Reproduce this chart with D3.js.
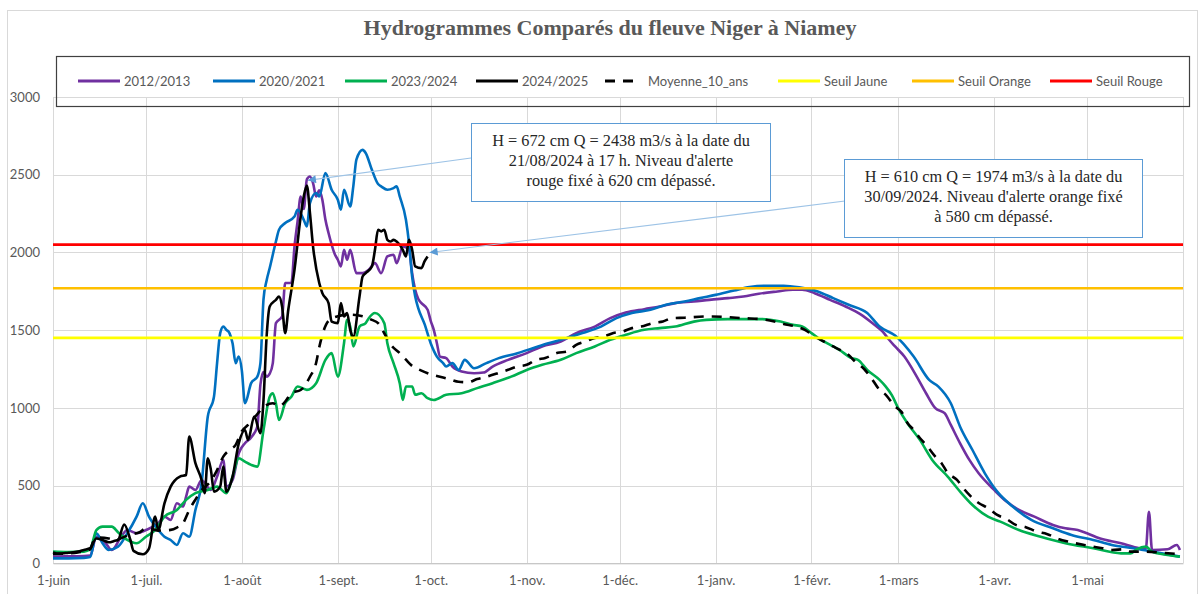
<!DOCTYPE html>
<html><head><meta charset="utf-8">
<script src="https://cdn.jsdelivr.net/npm/d3@7"></script>
<style>body{margin:0;background:#fff}svg{display:block}</style>
</head><body>
<svg id="c" width="1203" height="594"></svg>
<script>
// ---------------- DATA ----------------
const chartTitle = "Hydrogrammes Comparés du fleuve Niger à Niamey";
const monthLabels = ["1-juin","1-juil.","1-août","1-sept.","1-oct.","1-nov.","1-déc.","1-janv.","1-févr.","1-mars","1-avr.","1-mai"];
const yTicks = [0,500,1000,1500,2000,2500,3000];
const seriesNames = ["2012/2013","2020/2021","2023/2024","2024/2025","Moyenne_10_ans"];
// [day since 1 June, discharge m3/s]
const q2012 = [[0,43],[4,45],[8,45],[12,50],[14,171],[17,129],[19,86],[22,171],[24,214],[27,193],[30,214],[34,258],[36,300],[38,279],[40,386],[42,365],[43,429],[44,493],[46,472],[48,536],[51,472],[53,558],[55,665],[56,493],[58,536],[60,708],[62,772],[64,810],[66,880],[67,1150],[68,1230],[69,1201],[70,1220],[71,1288],[72,1545],[74,1588],[75,1803],[77,1803],[78,2038],[79,2200],[80,2360],[81,2280],[82,2470],[83,2489],[84,2446],[85,2360],[86,2400],[87,2339],[88,2210],[89,2125],[91,1990],[92,1953],[93,1910],[94,2017],[95,1953],[96,2017],[98,1867],[100,1867],[102,1888],[104,1931],[106,1867],[108,1974],[110,1985],[111,1931],[113,2038],[115,2017],[116,1867],[117,1760],[118,1700],[119,1674],[121,1631],[122,1560],[123,1502],[124,1416],[125,1330],[127,1320],[129,1266],[132,1234],[136,1223],[139,1227],[142,1266],[147,1309],[153,1352],[158,1395],[164,1427],[169,1481],[175,1523],[180,1577],[185,1613],[191,1635],[196,1652],[201,1674],[207,1684],[212,1695],[218,1706],[223,1716],[228,1734],[234,1749],[239,1760],[242,1760],[246,1738],[251,1695],[256,1652],[261,1600],[265,1540],[268,1490],[270,1440],[272,1395],[275,1330],[279,1201],[282,1094],[285,998],[288,966],[290,890],[293,772],[296,665],[299,579],[304,472],[308,397],[312,343],[317,300],[323,247],[327,225],[331,214],[334,193],[338,161],[345,129],[351,97],[353,95],[354,332],[355,86],[360,90],[363,118],[364,86]];
const q2020 = [[0,32],[5,32],[10,35],[12,40],[14,193],[16,129],[18,86],[21,107],[24,193],[27,300],[29,386],[31,300],[34,214],[36,171],[38,150],[40,118],[42,193],[44,171],[46,343],[48,515],[50,944],[52,1072],[53,1288],[54,1481],[55,1523],[56,1502],[57,1481],[58,1416],[59,1288],[60,1330],[61,1240],[62,1030],[64,1159],[66,1201],[67,1288],[68,1700],[69,1820],[70,1900],[72,2070],[73,2146],[75,2189],[78,2231],[79,2275],[81,2210],[82,2167],[83,2318],[85,2382],[86,2360],[88,2511],[90,2403],[92,2339],[93,2275],[94,2403],[96,2296],[97,2425],[98,2597],[100,2660],[101,2640],[103,2532],[105,2440],[106,2425],[108,2403],[110,2414],[111,2425],[112,2360],[114,2210],[115,2060],[116,1845],[117,1716],[118,1640],[120,1540],[122,1416],[124,1330],[126,1288],[127,1266],[129,1288],[131,1244],[133,1309],[136,1255],[140,1288],[144,1320],[150,1352],[155,1384],[160,1416],[166,1449],[171,1481],[177,1523],[182,1577],[187,1610],[193,1631],[198,1663],[204,1684],[209,1706],[214,1727],[220,1755],[225,1777],[230,1785],[236,1785],[241,1775],[247,1749],[252,1706],[257,1663],[263,1610],[267,1523],[272,1465],[278,1330],[283,1180],[286,1137],[290,1030],[293,879],[297,729],[301,579],[305,461],[310,365],[316,279],[323,225],[329,182],[336,150],[342,118],[349,97],[355,75],[364,43]];
const q2023 = [[0,75],[5,72],[10,75],[12,90],[14,214],[16,236],[19,236],[21,200],[24,150],[27,129],[30,171],[33,214],[36,300],[40,343],[43,408],[46,451],[50,472],[53,493],[56,451],[58,558],[60,676],[62,654],[64,633],[66,622],[68,858],[70,1072],[71,1094],[72,1030],[73,922],[75,1030],[77,1072],[79,1137],[82,1116],[85,1159],[88,1309],[90,1352],[92,1201],[94,1416],[95,1566],[96,1523],[97,1395],[99,1523],[101,1545],[102,1577],[104,1610],[107,1545],[108,1416],[110,1288],[112,1159],[113,1051],[114,1137],[116,1137],[117,1084],[119,1094],[121,1062],[123,1051],[127,1084],[132,1094],[137,1127],[142,1159],[148,1201],[153,1244],[158,1277],[164,1309],[169,1352],[175,1395],[180,1438],[185,1470],[191,1502],[196,1513],[201,1523],[207,1555],[211,1566],[218,1571],[224,1571],[229,1571],[235,1555],[239,1534],[242,1523],[245,1481],[248,1438],[250,1416],[254,1373],[258,1320],[260,1309],[263,1244],[267,1180],[269,1137],[271,1080],[273,998],[276,901],[280,794],[284,665],[289,558],[293,461],[297,375],[302,300],[306,268],[312,214],[319,171],[327,129],[336,97],[345,64],[348,64],[350,90],[353,107],[355,75],[360,53],[364,43]];
const q2024 = [[0,70],[2,62],[5,68],[8,75],[10,86],[12,97],[14,160],[16,150],[18,135],[20,145],[21,150],[23,250],[25,150],[26,80],[29,58],[31,95],[33,300],[34,214],[36,386],[38,493],[41,558],[43,568],[44,815],[46,644],[48,536],[49,451],[50,676],[51,601],[52,461],[54,493],[55,622],[56,461],[58,558],[60,772],[62,858],[63,794],[65,944],[67,837],[68,1051],[69,1459],[70,1652],[72,1695],[73,1716],[74,1652],[75,1481],[76,1631],[78,1888],[80,2231],[81,2360],[82,2430],[83,2253],[84,2038],[86,1803],[87,1738],[89,1674],[90,1555],[92,1545],[93,1674],[94,1588],[95,1610],[96,1502],[97,1459],[99,1716],[100,1845],[101,1867],[103,1910],[104,2017],[105,2146],[106,2135],[107,2146],[108,2081],[109,2070],[110,2081],[111,2070],[113,2017],[114,1974],[115,2081],[116,2017],[117,1910],[119,1899],[120,1942],[121,1974]];
const qMoyenne = [[0,60],[4,62],[8,70],[12,90],[13,140],[15,165],[18,160],[20,150],[23,170],[25,185],[28,200],[30,225],[32,220],[34,210],[36,212],[38,215],[40,230],[42,258],[44,343],[46,410],[48,470],[51,530],[53,600],[55,686],[57,729],[59,762],[61,850],[63,890],[66,960],[68,1005],[71,1030],[73,1010],[75,1040],[77,1095],[80,1115],[81,1135],[83,1200],[85,1290],[86,1390],[87,1470],[89,1560],[92,1590],[96,1600],[100,1590],[103,1566],[105,1545],[107,1480],[109,1410],[112,1352],[114,1310],[116,1270],[119,1240],[121,1223],[123,1210],[125,1200],[128,1185],[131,1168],[134,1165],[137,1185],[140,1200],[144,1225],[147,1245],[150,1266],[153,1277],[156,1309],[159,1321],[163,1354],[166,1362],[169,1405],[172,1427],[175,1449],[178,1459],[181,1482],[184,1491],[187,1513],[190,1523],[194,1547],[197,1556],[200,1577],[204,1580],[211,1588],[217,1585],[223,1577],[229,1570],[233,1556],[236,1540],[240,1523],[243,1500],[246,1459],[249,1427],[252,1395],[254,1375],[257,1340],[259,1300],[262,1250],[264,1201],[267,1116],[269,1084],[272,1008],[274,976],[276,903],[278,858],[280,806],[282,762],[285,686],[287,644],[289,581],[292,537],[294,485],[296,440],[299,388],[302,356],[305,311],[308,285],[311,247],[314,234],[318,203],[321,189],[325,155],[328,139],[333,118],[336,107],[339,97],[342,86],[346,90],[348,75],[353,75],[358,68],[363,60]];
const thresholdNames = ["Seuil Jaune","Seuil Orange","Seuil Rouge"];
const thresholdValues = [1450, 1770, 2050];
const annotDays = [81.7, 121];
const annotQ = [2438, 1974];
const annotTexts = [
  ["H = 672 cm Q = 2438 m3/s à la date du","21/08/2024 à 17 h. Niveau d'alerte","rouge fixé à 620 cm dépassé."],
  ["H = 610 cm Q = 1974 m3/s à la date du","30/09/2024. Niveau d'alerte orange fixé","à 580 cm dépassé."]
];

// ---------------- STYLE / LAYOUT ----------------
const seriesColors = ["#7030A0","#0070C0","#00B050","#000000","#000000"];
const thresholdColors = ["#FFFF00","#FFC000","#FF0000"];
const allSeries = [q2012,q2020,q2023,q2024,qMoyenne];
const axisFont = "Lato, 'Open Sans', sans-serif";
const serif = "'Liberation Serif', 'DejaVu Serif', serif";
const plot = {left:53, right:1183, top:97, bottom:563.3};

const svg = d3.select("#c");
const start = Date.UTC(2024,5,1), end = Date.UTC(2025,5,1);
const toDate = d => new Date(start + d*864e5);
const x = d3.scaleUtc().domain([new Date(start), new Date(end)]).range([plot.left, plot.right]);
const y = d3.scaleLinear().domain([0,3000]).range([plot.bottom, plot.top]);

// chart border
svg.append("rect").attr("x",7.5).attr("y",10.5).attr("width",1190).attr("height",600)
  .attr("fill","#fff").attr("stroke","#d9d9d9");

// title
svg.append("text").attr("x",610).attr("y",35).attr("text-anchor","middle")
  .attr("font-family",serif).attr("font-weight","bold").attr("font-size",22)
  .attr("fill","#595959").text(chartTitle);

// gridlines
const months = d3.utcMonth.range(new Date(start), new Date(end));
svg.append("g").selectAll("line").data(yTicks).join("line")
  .attr("x1",plot.left).attr("x2",plot.right)
  .attr("y1",d=>Math.round(y(d))+0.5).attr("y2",d=>Math.round(y(d))+0.5)
  .attr("stroke","#d9d9d9");
svg.append("g").selectAll("line").data(months.concat([new Date(end)])).join("line")
  .attr("x1",d=>Math.round(x(d))+0.5).attr("x2",d=>Math.round(x(d))+0.5)
  .attr("y1",plot.top).attr("y2",plot.bottom)
  .attr("stroke","#d9d9d9");

// axes
const yAxis = d3.axisLeft(y).tickValues(yTicks).tickSize(0).tickPadding(13).tickFormat(d3.format("d"));
const gy = svg.append("g").attr("transform",`translate(${plot.left},0)`).call(yAxis);
gy.select(".domain").remove();
gy.selectAll("text").attr("font-family",axisFont).attr("font-size",13).attr("fill","#595959");

const xAxis = d3.axisBottom(x).tickValues(months).tickSize(0).tickPadding(12)
  .tickFormat((d,i)=>monthLabels[i]);
const gx = svg.append("g").attr("transform",`translate(0,${plot.bottom})`).call(xAxis);
gx.select(".domain").attr("stroke","#bfbfbf");
gx.selectAll("text").attr("font-family",axisFont).attr("font-size",13).attr("fill","#595959");

// series
const line = d3.line().x(d=>x(toDate(d[0]))).y(d=>y(d[1])).curve(d3.curveMonotoneX);
allSeries.forEach((s,i)=>{
  svg.append("path").datum(s).attr("d",line).attr("fill","none")
    .attr("stroke",seriesColors[i]).attr("stroke-width",2.6)
    .attr("stroke-linejoin","round")
    .attr("stroke-dasharray", i===4 ? "10,8" : null);
});

// thresholds
thresholdValues.forEach((v,i)=>{
  svg.append("line").attr("x1",plot.left).attr("x2",plot.right)
    .attr("y1",y(v)).attr("y2",y(v)).attr("stroke",thresholdColors[i]).attr("stroke-width",2.6);
});

// legend
svg.append("rect").attr("x",56.5).attr("y",56.5).attr("width",1133).attr("height",50)
  .attr("fill","none").attr("stroke","#404040").attr("stroke-width",1.2);
const legNames = seriesNames.concat(thresholdNames);
const legColors = seriesColors.concat(thresholdColors);
const legX = [78,213,345,476,605,778,912,1050];
legNames.forEach((n,i)=>{
  const g = svg.append("g").attr("transform",`translate(${legX[i]},81)`);
  g.append("line").attr("x1",0).attr("x2",i===4?36:42).attr("y1",0).attr("y2",0)
    .attr("stroke",legColors[i]).attr("stroke-width",3)
    .attr("stroke-dasharray", i===4 ? "10,8" : null);
  g.append("text").attr("x",i===4?43:46).attr("y",0).attr("dy","0.35em")
    .attr("font-family",axisFont).attr("font-size",13).attr("fill","#595959").text(n);
});

// annotations
const defs = svg.append("defs");
defs.append("marker").attr("id","ah").attr("viewBox","0 0 10 10").attr("refX",0).attr("refY",5)
  .attr("markerWidth",11).attr("markerHeight",8).attr("markerUnits","userSpaceOnUse")
  .attr("orient","auto")
  .append("path").attr("d","M0,5 L10,0 L10,10 z").attr("fill","#5B9BD5");
const boxes = [
  {x:471.5, y:123.5, w:299, h:78, from:[471,158]},
  {x:844.5, y:159.5, w:298, h:78, from:[845,201]}
];
boxes.forEach((b,i)=>{
  const tx = x(toDate(annotDays[i])), ty = y(annotQ[i]) - 4;
  svg.append("line").attr("x1",tx+2).attr("y1",ty).attr("x2",b.from[0]).attr("y2",b.from[1])
    .attr("stroke","#9DC3E6").attr("stroke-width",1.2).attr("marker-start","url(#ah)");
  svg.append("rect").attr("x",b.x).attr("y",b.y).attr("width",b.w).attr("height",b.h)
    .attr("fill","#fff").attr("stroke","#5B9BD5").attr("stroke-width",1);
  annotTexts[i].forEach((t,j)=>{
    svg.append("text").attr("x",b.x+b.w/2).attr("y",b.y+17+j*19.7).attr("dy","0.35em")
      .attr("text-anchor","middle").attr("font-family",serif).attr("font-size",16.3)
      .attr("fill","#262626").text(t);
  });
});
</script>
</body></html>
